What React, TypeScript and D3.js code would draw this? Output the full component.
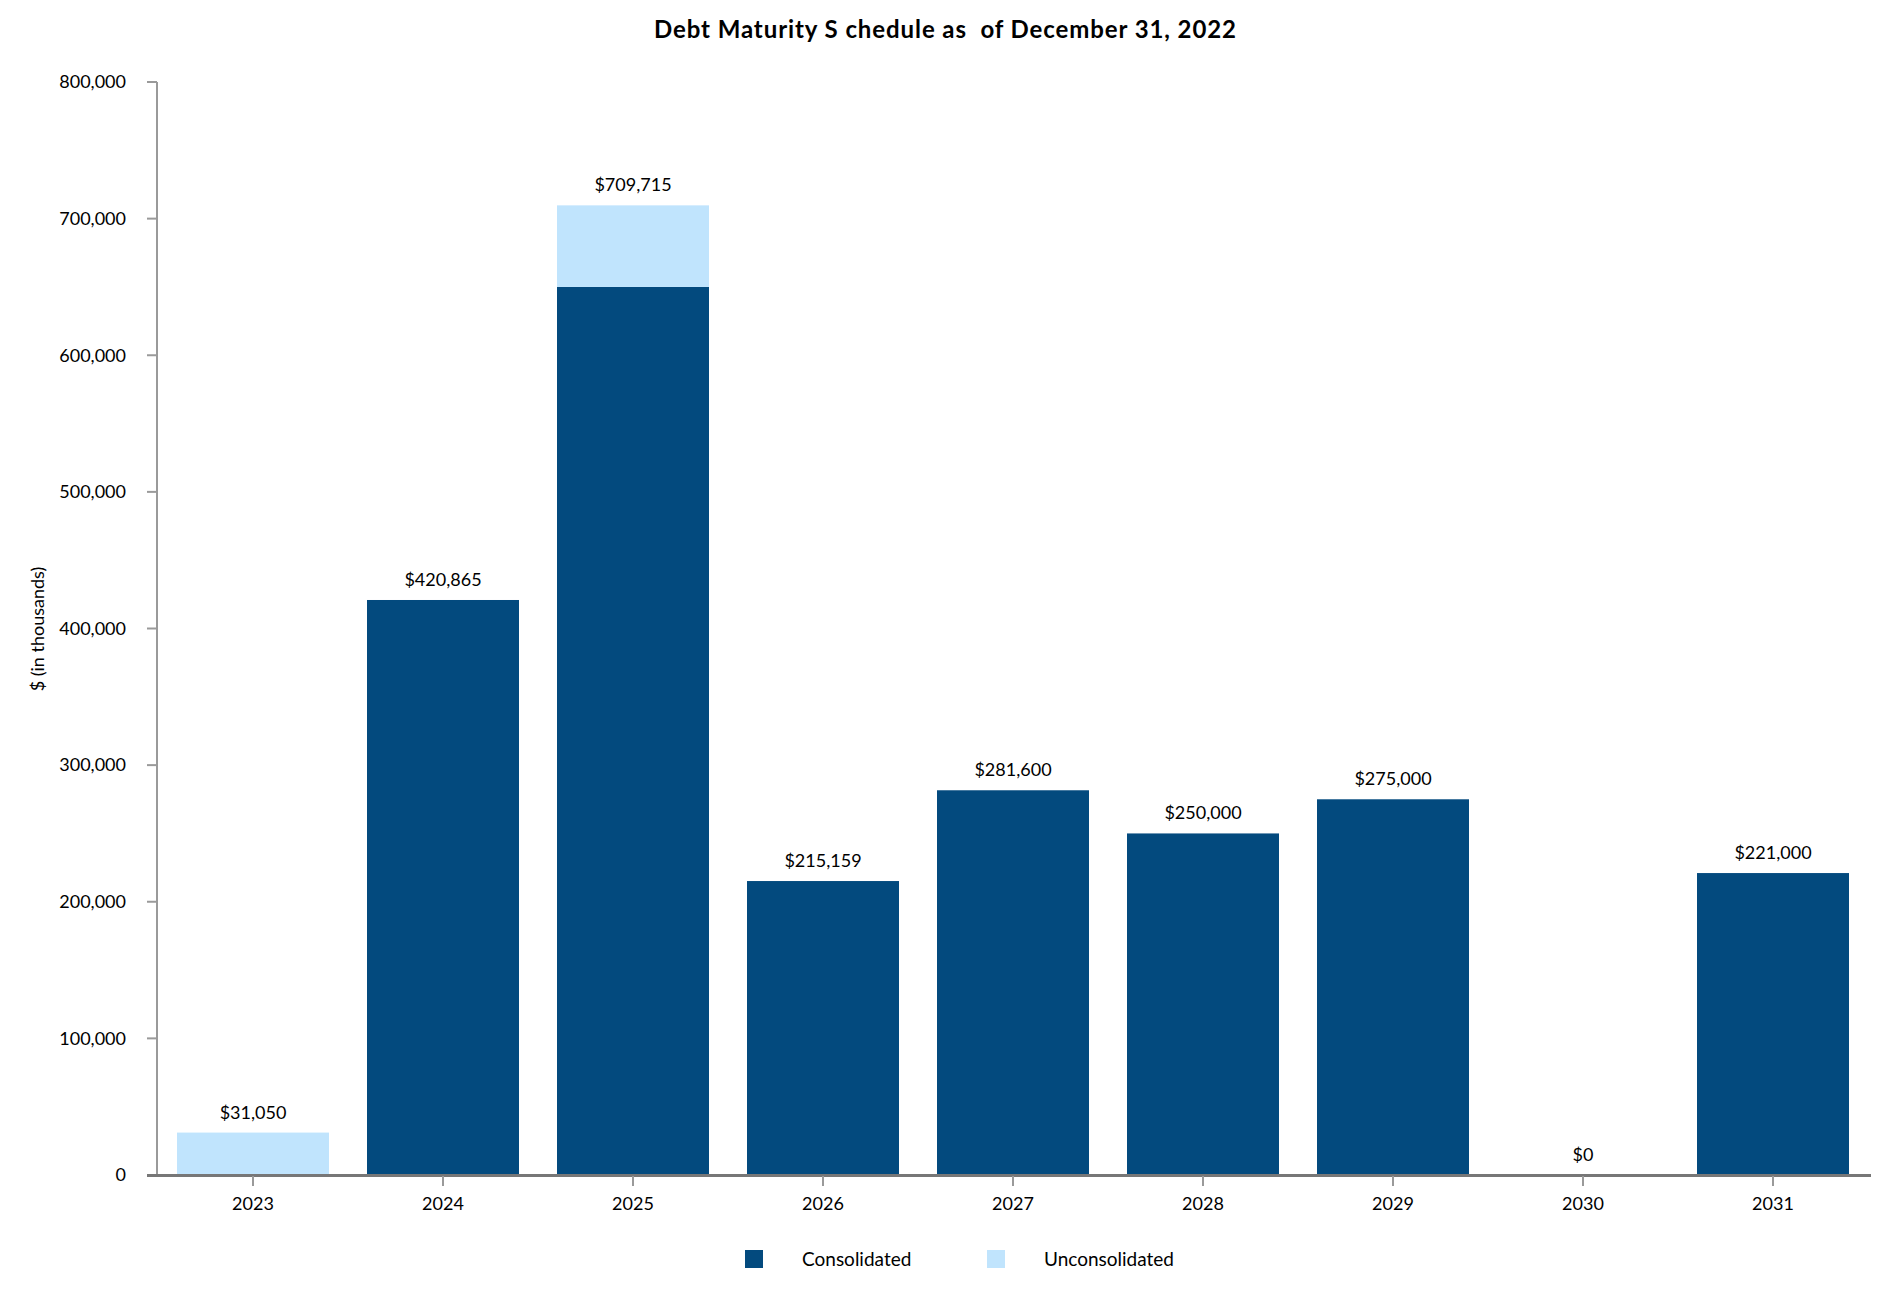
import React from "react";
import * as d3 from "d3";

const years = ["2023", "2024", "2025", "2026", "2027", "2028", "2029", "2030", "2031"];
const consolidated = [0, 420865, 650000, 215159, 281600, 250000, 275000, 0, 221000];
const unconsolidated = [31050, 0, 59715, 0, 0, 0, 0, 0, 0];
const yTicks = [0, 100000, 200000, 300000, 400000, 500000, 600000, 700000, 800000];
const seriesNames = ["Consolidated", "Unconsolidated"];
const title = "Debt Maturity S chedule as  of December 31, 2022";
const yAxisTitle = "$ (in thousands)";

const W = 1890;
const H = 1300;
const COLORS = ["#034a7e", "#c0e4fd"];
const FONT = "Lato, 'Open Sans', sans-serif";

export default function App() {
  const x = d3.scaleBand<string>().domain(years).range([158, 1868]).paddingInner(0.2).paddingOuter(0.1);
  const y = d3.scaleLinear().domain([0, 800000]).range([1175, 82]);
  const fmt = d3.format(",");
  const bw = x.bandwidth();
  const totals = years.map((_, i) => consolidated[i] + unconsolidated[i]);

  return (
    <svg width={W} height={H} style={{ position: "absolute", left: 0, top: 0, background: "#fff" }} fontFamily={FONT}>
      <text
        x={945}
        y={38}
        textAnchor="middle"
        fontSize={24}
        fontWeight={700}
        fill="#000"
        textLength={582}
        lengthAdjust="spacing"
        style={{ whiteSpace: "pre" }}
      >
        {title}
      </text>

      {/* y axis */}
      <line x1={157} x2={157} y1={y(800000)} y2={y(0)} stroke="#9a9a9a" strokeWidth={2} />
      {yTicks.map((t) => (
        <g key={t}>
          <line x1={147} x2={157} y1={y(t)} y2={y(t)} stroke="#9a9a9a" strokeWidth={2} />
          <text x={126} y={y(t)} dy="0.35em" textAnchor="end" fontSize={18} fill="#000">
            {fmt(t)}
          </text>
        </g>
      ))}
      <text
        transform={`translate(38,629) rotate(-90)`}
        textAnchor="middle"
        dy="0.35em"
        fontSize={18}
        fill="#000"
      >
        {yAxisTitle}
      </text>

      {/* bars */}
      {years.map((yr, i) => (
        <g key={yr}>
          {consolidated[i] > 0 && (
            <rect
              x={x(yr)}
              width={bw}
              y={y(consolidated[i])}
              height={y(0) - y(consolidated[i])}
              fill={COLORS[0]}
            />
          )}
          {unconsolidated[i] > 0 && (
            <rect
              x={x(yr)}
              width={bw}
              y={y(consolidated[i] + unconsolidated[i])}
              height={y(consolidated[i]) - y(consolidated[i] + unconsolidated[i])}
              fill={COLORS[1]}
            />
          )}
          <text
            x={(x(yr) as number) + bw / 2}
            y={y(totals[i]) - 14}
            textAnchor="middle"
            fontSize={18}
            fill="#000"
          >
            {"$" + fmt(totals[i])}
          </text>
        </g>
      ))}

      {/* x axis */}
      <line x1={147} x2={1871} y1={1175.5} y2={1175.5} stroke="#777" strokeWidth={3} />
      {years.map((yr) => {
        const cx = (x(yr) as number) + bw / 2;
        return (
          <g key={yr}>
            <line x1={cx} x2={cx} y1={1176} y2={1186} stroke="#9a9a9a" strokeWidth={2} />
            <text x={cx} y={1210} textAnchor="middle" fontSize={18} fill="#000">
              {yr}
            </text>
          </g>
        );
      })}

      {/* legend */}
      {seriesNames.map((s, i) => (
        <g key={s} transform={`translate(${745 + i * 242},1250)`}>
          <rect x={0} y={0} width={18} height={18} fill={COLORS[i]} />
          <text x={57} y={9} dy="0.35em" fontSize={19} fill="#000">
            {s}
          </text>
        </g>
      ))}
    </svg>
  );
}
